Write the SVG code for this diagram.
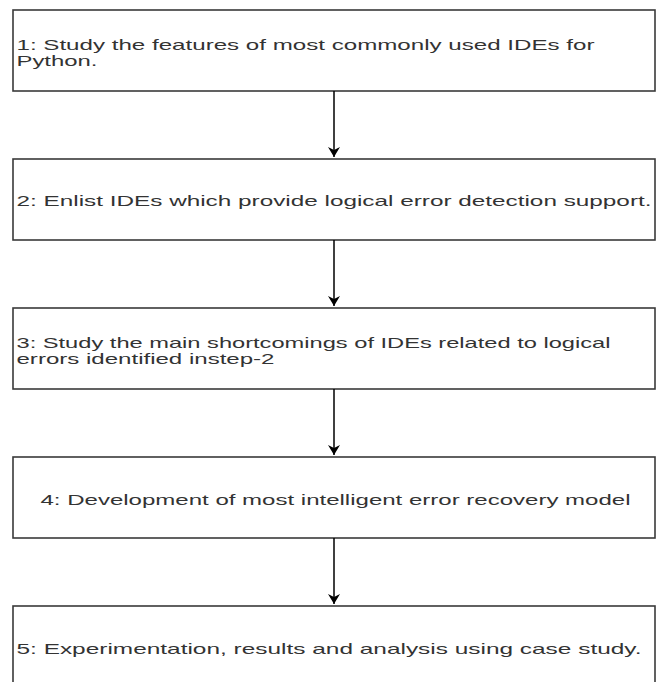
<svg xmlns="http://www.w3.org/2000/svg" width="657" height="682" viewBox="0 0 657 682">
<defs>
<style>
.box{fill:#ffffff;stroke:#3a3a3a;stroke-width:1.6}
.t{font-family:"Liberation Sans",Arial,sans-serif;font-size:15px;fill:#333333}
.c{stroke:#000000;stroke-width:1.5;fill:none}
</style>
<marker id="ah" markerWidth="14" markerHeight="14" refX="10" refY="6" orient="auto" markerUnits="userSpaceOnUse">
<path d="M0,0 L10,6 L0,12 L3,6 Z" fill="#000000"/>
</marker>
</defs>
<rect x="0" y="0" width="657" height="682" fill="#ffffff"/>
<g id="step1">
<rect class="box" x="13" y="10" width="642" height="81"/>
<text class="t" x="16.5" y="49.5" textLength="578" lengthAdjust="spacingAndGlyphs">1: Study the features of most commonly used IDEs for</text>
<text class="t" x="16.5" y="65.5" textLength="81" lengthAdjust="spacingAndGlyphs">Python.</text>
</g>
<g id="step2">
<rect class="box" x="13" y="159" width="642" height="81"/>
<text class="t" x="16.5" y="206" textLength="635" lengthAdjust="spacingAndGlyphs">2: Enlist IDEs which provide logical error detection support.</text>
</g>
<g id="step3">
<rect class="box" x="13" y="308" width="642" height="81"/>
<text class="t" x="16.5" y="347.5" textLength="594" lengthAdjust="spacingAndGlyphs">3: Study the main shortcomings of IDEs related to logical</text>
<text class="t" x="16.5" y="363.5" textLength="258" lengthAdjust="spacingAndGlyphs">errors identified instep-2</text>
</g>
<g id="step4">
<rect class="box" x="13" y="457" width="642" height="81"/>
<text class="t" x="40.5" y="505" textLength="590" lengthAdjust="spacingAndGlyphs">4: Development of most intelligent error recovery model</text>
</g>
<g id="step5">
<rect class="box" x="13" y="606" width="642" height="81"/>
<text class="t" x="16.5" y="654" textLength="625" lengthAdjust="spacingAndGlyphs">5: Experimentation, results and analysis using case study.</text>
</g>
<g id="connectors">
<line class="c" x1="334" y1="91" x2="334" y2="157" marker-end="url(#ah)"/>
<line class="c" x1="334" y1="240" x2="334" y2="306" marker-end="url(#ah)"/>
<line class="c" x1="334" y1="389" x2="334" y2="455" marker-end="url(#ah)"/>
<line class="c" x1="334" y1="538" x2="334" y2="604" marker-end="url(#ah)"/>
</g>
</svg>
